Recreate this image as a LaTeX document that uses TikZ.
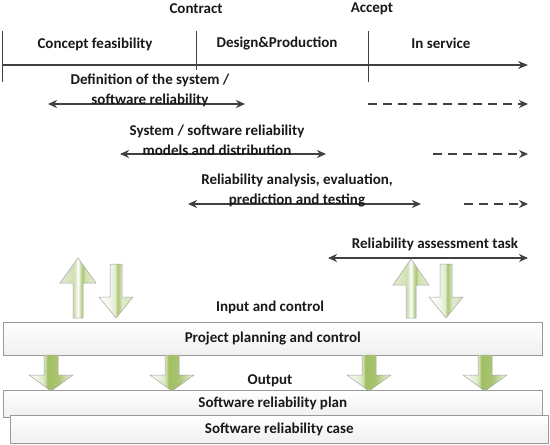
\documentclass[tikz,border=0pt]{standalone}
\usepackage{fontspec}
\setmainfont{Carlito}
\usepackage{xcolor}
\usetikzlibrary{arrows.meta,positioning}

\definecolor{arrgreen}{RGB}{155,187,89}
\definecolor{linegray}{RGB}{64,64,64}
\colorlet{gA}{arrgreen!12}
\colorlet{gB}{arrgreen!30}
\colorlet{gC}{arrgreen!45}
\colorlet{gD}{arrgreen!60}
\colorlet{gE}{arrgreen!85}
\colorlet{gF}{arrgreen!95}

\pgfdeclarehorizontalshading{upshade}{100bp}{color(0bp)=(gB); color(25bp)=(gB);
  color(45bp)=(gC); color(50bp)=(white); color(53bp)=(gC); color(57bp)=(gE);
  color(60bp)=(gC); color(75bp)=(gB); color(100bp)=(gB)}
\pgfdeclarehorizontalshading{downshade}{100bp}{color(0bp)=(white); color(25bp)=(white);
  color(40bp)=(gA); color(49bp)=(gB); color(52bp)=(gE); color(56bp)=(gD);
  color(59bp)=(gB); color(75bp)=(gC); color(100bp)=(gC)}
\pgfdeclarehorizontalshading{lowshade}{100bp}{color(0bp)=(white); color(25bp)=(white);
  color(40bp)=(gB); color(43bp)=(gC); color(46bp)=(gF); color(58bp)=(gE);
  color(75bp)=(gA); color(100bp)=(gA)}

\tikzset{
  lbl/.style={font=\bfseries\fontsize{15}{20}\selectfont, inner sep=0pt, align=center, text=black!90},
  span/.style={{Stealth[length=9pt,width=8pt]}-{Stealth[length=9pt,width=8pt]}, line width=1.6pt, draw=linegray},
  tail/.style={-{Stealth[length=9pt,width=8pt]}, line width=1.3pt, draw=linegray, dash pattern=on 9pt off 6pt},
  tick/.style={draw=linegray, line width=0.9pt},
  box/.style={draw=gray!80, line width=0.6pt, top color=white, bottom color=gray!12, inner sep=0pt},
  fatup/.style={draw=gray!70, line width=0.5pt, shading=upshade},
  fatdown/.style={draw=gray!70, line width=0.5pt, shading=downshade},
  lowdown/.style={draw=gray!70, line width=0.5pt, shading=lowshade}
}

\newcommand{\blkup}[7][fatup]{%
  \draw[#1] (#2-#5,#3) -- (#2+#5,#3) -- (#2+#5,#4+#7) -- (#2+#6,#4+#7) -- (#2,#4)
    -- (#2-#6,#4+#7) -- (#2-#5,#4+#7) -- cycle;}
\newcommand{\blkdown}[7][fatdown]{%
  \draw[#1] (#2-#5,#3) -- (#2+#5,#3) -- (#2+#5,#4-#7) -- (#2+#6,#4-#7) -- (#2,#4)
    -- (#2-#6,#4-#7) -- (#2-#5,#4-#7) -- cycle;}

\begin{document}
\begin{tikzpicture}[x=1pt,y=-1pt]
\useasboundingbox[fill=white] (0,0) rectangle (550,445);

% time line
\coordinate (t0) at (2,65);
\coordinate (tend) at (528,65);
\draw [-{Stealth[length=10pt,width=8pt]}, line width=1.3pt, draw=linegray] (t0) -- (tend);
\draw [tick] (2,31) -- (2,82);
\draw [tick] (196,31) -- (196,70);
\draw [tick] (368,31) -- (368,82);
\node [lbl] (contract) at (196,9) {Contract};
\node [lbl] (accept) at (372,9) {Accept};
\node [lbl] (concept) at (95,44) {Concept feasibility};
\node [lbl] (design) at (277,43) {Design\&Production};
\node [lbl] (service) at (441,43) {In service};

% activities
\coordinate (a1) at (48,104);  \coordinate (b1) at (245,104);
\coordinate (c1) at (368,104); \coordinate (e1) at (528,104);
\coordinate (a2) at (120,154); \coordinate (b2) at (326,154);
\coordinate (c2) at (433,154); \coordinate (e2) at (528,154);
\coordinate (a3) at (188,204); \coordinate (b3) at (421,204);
\coordinate (c3) at (464,204); \coordinate (e3) at (528,204);
\coordinate (a4) at (328,258); \coordinate (e4) at (528,258);
\draw [span] (a1) -- (b1);
\draw [tail] (c1) -- (e1);
\draw [span] (a2) -- (b2);
\draw [tail] (c2) -- (e2);
\draw [span] (a3) -- (b3);
\draw [tail] (c3) -- (e3);
\draw [span] (a4) -- (e4);
\node [lbl] (defsys) at (150,90) {Definition of the system /\\software reliability};
\node [lbl] (models) at (217,140) {System / software reliability\\models and distribution};
\node [lbl] (analysis) at (297,190) {Reliability analysis, evaluation,\\prediction and testing};
\node [lbl] (assess) at (435,244) {Reliability assessment task};

% planning
\blkup{78}{318}{258}{5}{18}{25}
\blkdown{116}{264}{318}{6}{17}{21}
\blkup{411}{318}{259}{5}{18}{26}
\blkdown{446}{264}{318}{6}{17}{21}
\node [lbl] (input) at (270,307) {Input and control};
\node [box, minimum width=539, minimum height=33, anchor=north west] (ppc) at (3,322) {};
\node [lbl] at (ppc.center) {Project planning and control};
\node [box, minimum width=539, minimum height=27, anchor=north west] (plan) at (3,390) {};
\node [lbl] at (plan.center) {Software reliability plan};
\node [box, minimum width=538, minimum height=28, anchor=north west] (case) at (10,415) {};
\node [lbl] at (case.center) {Software reliability case};
\node [lbl] (output) at (270,381) {Output};
\foreach \xx in {51,172,369,485}
  \blkdown[lowdown]{\xx}{355}{391}{7}{22}{16};
\end{tikzpicture}
\end{document}
